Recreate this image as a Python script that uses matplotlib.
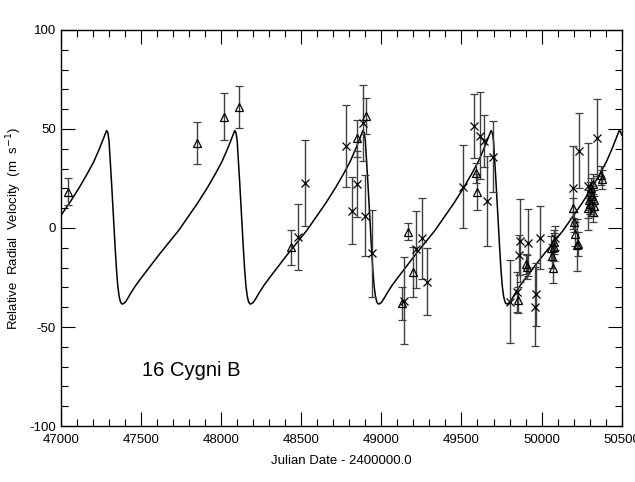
import numpy as np
import matplotlib
matplotlib.use('Agg')
import matplotlib.pyplot as plt
from matplotlib.ticker import MultipleLocator

plt.rcParams['font.family'] = ['Liberation Sans', 'DejaVu Sans']
plt.rcParams['axes.unicode_minus'] = False

# orbit curve (JD - 2400000, m/s)
curve_jd = [47000, 47055, 47115, 47165, 47205, 47240, 47267, 47285, 47293, 47300,
            47307, 47315, 47323, 47331, 47339, 47347, 47355, 47363, 47371, 47378,
            47385, 47400, 47415, 47435, 47465, 47505, 47555, 47615, 47675, 47735,
            47795, 47855, 47915, 47965, 48005, 48040, 48067, 48085, 48093, 48100,
            48107, 48115, 48123, 48131, 48139, 48147, 48155, 48163, 48171, 48178,
            48185, 48200, 48215, 48235, 48265, 48305, 48355, 48415, 48475, 48535,
            48595, 48655, 48715, 48765, 48805, 48840, 48867, 48885, 48893, 48900,
            48907, 48915, 48923, 48931, 48939, 48947, 48955, 48963, 48971, 48978,
            48985, 49000, 49015, 49035, 49065, 49105, 49155, 49215, 49275, 49335,
            49395, 49455, 49515, 49565, 49605, 49640, 49667, 49685, 49693, 49700,
            49707, 49715, 49723, 49731, 49739, 49747, 49755, 49763, 49771, 49778,
            49785, 49800, 49815, 49835, 49865, 49905, 49955, 50015, 50075, 50135,
            50195, 50255, 50315, 50365, 50405, 50440, 50467, 50485, 50493, 50500]
curve_rv = [6.4, 12.8, 20.5, 27.5, 33.5, 40.0, 45.5, 49.2, 48.0, 44.0,
            35.0, 24.0, 12.0, 0.5, -11.0, -21.5, -29.5, -34.5, -37.2, -38.2,
            -38.4, -37.6, -35.8, -33.0, -29.2, -24.8, -19.5, -13.2, -7.2, -1.2,
            5.8, 12.8, 20.5, 27.5, 33.5, 40.0, 45.5, 49.2, 48.0, 44.0,
            35.0, 24.0, 12.0, 0.5, -11.0, -21.5, -29.5, -34.5, -37.2, -38.2,
            -38.4, -37.6, -35.8, -33.0, -29.2, -24.8, -19.5, -13.2, -7.2, -1.2,
            5.8, 12.8, 20.5, 27.5, 33.5, 40.0, 45.5, 49.2, 48.0, 44.0,
            35.0, 24.0, 12.0, 0.5, -11.0, -21.5, -29.5, -34.5, -37.2, -38.2,
            -38.4, -37.6, -35.8, -33.0, -29.2, -24.8, -19.5, -13.2, -7.2, -1.2,
            5.8, 12.8, 20.5, 27.5, 33.5, 40.0, 45.5, 49.2, 48.0, 44.0,
            35.0, 24.0, 12.0, 0.5, -11.0, -21.5, -29.5, -34.5, -37.2, -38.2,
            -38.4, -37.6, -35.8, -33.0, -29.2, -24.8, -19.5, -13.2, -7.2, -1.2,
            5.8, 12.8, 20.5, 27.5, 33.5, 40.0, 45.5, 49.2, 48.5, 47.0]

# triangle points
tri_jd = [47046, 47847, 48017, 48111, 48436, 48846, 48904, 49127, 49168, 49195,
          49588, 49595, 49851, 49900, 49906, 50062, 50066, 50071, 50076, 50080,
          50198, 50203, 50210, 50219, 50229, 50290, 50295, 50300, 50305, 50310,
          50314, 50318, 50322, 50326, 50330, 50369, 50375]
tri_rv = [18.3, 42.8, 56.2, 61.0, -9.8, 45.3, 56.6, -38.0, -1.9, -22.0,
          27.6, 18.3, -36.4, -18.0, -19.5, -10.0, -14.0, -20.0, -7.0, -9.5,
          10.0, 3.0, -3.0, -8.6, -8.0, 10.0, 14.0, 18.0, 12.0, 20.0,
          16.0, 8.0, 22.0, 14.0, 11.0, 26.5, 24.5]
tri_err = [6.7, 10.6, 11.8, 10.7, 8.7, 9.3, 9.0, 8.2, 4.4, 12.6,
           5.0, 9.0, 6.5, 5.0, 6.0, 6.0, 6.0, 8.0, 6.0, 7.0,
           5.0, 5.0, 6.0, 13.0, 6.0, 5.0, 5.0, 5.0, 5.0, 5.0,
           5.0, 5.0, 5.0, 5.0, 5.0, 5.0, 5.0]

# cross points
x_jd = [48481, 48523, 48779, 48818, 48849, 48883, 48898, 48941, 49143, 49214,
        49255, 49287, 49511, 49578, 49615, 49640, 49661, 49699, 49803, 49845,
        49861, 49865, 49913, 49959, 49965, 49988, 50083, 50198, 50233, 50288,
        50348]
x_rv = [-4.4, 22.6, 41.4, 8.8, 22.2, 53.0, 6.1, -12.8, -36.7, -10.8,
        -5.2, -27.1, 20.9, 51.5, 46.5, 44.0, 13.6, 36.0, -37.2, -32.2,
        -13.6, -6.5, -7.4, -39.7, -33.5, -4.9, -5.0, 20.4, 39.0, 21.0,
        45.6]
x_err = [16.7, 21.8, 20.5, 16.7, 16.5, 19.0, 20.4, 22.0, 21.9, 19.5,
         20.3, 17.0, 21.0, 16.0, 22.0, 13.0, 22.5, 18.0, 21.0, 10.0,
         10.0, 21.0, 17.0, 20.0, 16.0, 16.0, 6.0, 21.0, 19.0, 22.0,
         19.5]

fig = plt.figure(figsize=(6.35, 4.82), dpi=100)
ax = fig.add_axes([0.096, 0.116, 0.883, 0.822])

# modelo orbital
ax.plot(curve_jd, curve_rv, color='k', lw=1.1)

# puntos con barras de error
ax.errorbar(tri_jd, tri_rv, yerr=tri_err, fmt='^', mfc='none', mec='k', ms=5.5,
            mew=0.9, ecolor='0.25', elinewidth=1.0, capsize=3, capthick=1.0)
ax.errorbar(x_jd, x_rv, yerr=x_err, fmt='x', color='k', ms=5.5, mew=0.9,
            ecolor='0.25', elinewidth=1.0, capsize=3, capthick=1.0)

ax.set_xlim(47000, 50500)
ax.set_ylim(-100, 100)
ax.xaxis.set_major_locator(MultipleLocator(500))
ax.xaxis.set_minor_locator(MultipleLocator(100))
ax.yaxis.set_major_locator(MultipleLocator(50))
ax.yaxis.set_minor_locator(MultipleLocator(10))
ax.tick_params(which='both', direction='in', top=True, right=True,
               labelsize=9.5, width=0.8)
ax.tick_params(which='major', length=10)
ax.tick_params(which='minor', length=5)
ax.tick_params(axis='x', pad=6)
for s in ax.spines.values():
    s.set_linewidth(1.0)

ax.set_xlabel('Julian Date - 2400000.0', fontsize=9.5, labelpad=6)
ax.set_ylabel('Relative  Radial  Velocity  (m  s$^{-1}$)', fontsize=9.5, labelpad=4)

ax.text(47506, -74.6, '16 Cygni B', fontsize=14.5, va='baseline', ha='left')

plt.savefig('out.png', dpi=100)
